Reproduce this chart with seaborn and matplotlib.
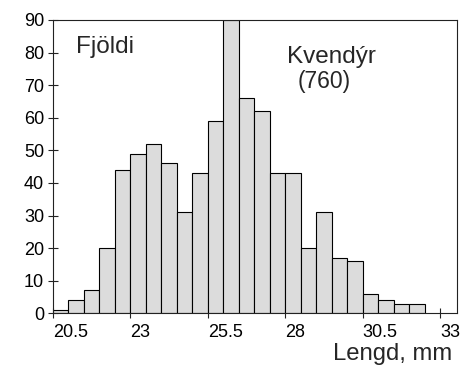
import numpy as np
import matplotlib
matplotlib.use("Agg")
import matplotlib.pyplot as plt
import seaborn as sns

# Data: length classes (0.5 mm bins starting at 20.5) and counts
bin_starts = [20.5, 21.0, 21.5, 22.0, 22.5, 23.0, 23.5, 24.0, 24.5, 25.0, 25.5, 26.0,
              26.5, 27.0, 27.5, 28.0, 28.5, 29.0, 29.5, 30.0, 30.5, 31.0, 31.5, 32.0]
counts = [1, 4, 7, 20, 44, 49, 52, 46, 31, 43, 59, 90,
          66, 62, 43, 43, 20, 31, 17, 16, 6, 4, 3, 3]
xtick_vals = [20.5, 23, 25.5, 28, 30.5, 33]
xtick_labels = ["20.5", "23", "25.5", "28", "30.5", "33"]
ytick_vals = [0, 10, 20, 30, 40, 50, 60, 70, 80, 90]

sns.set_style("ticks")
plt.rcParams['font.family'] = ['Liberation Sans', 'DejaVu Sans']

W, H = 469, 367
fig = plt.figure(figsize=(W / 100, H / 100), dpi=100)
ax = fig.add_axes([53 / W, 1 - 313.3 / H, (457 - 53) / W, (313.3 - 20) / H])

centers = [b + 0.25 for b in bin_starts]
edges = list(bin_starts) + [bin_starts[-1] + 0.5]
sns.histplot(x=centers, weights=counts, bins=edges, ax=ax,
             color="#dcdcdc", edgecolor="black", linewidth=0.8, alpha=1)

ax.set_xlim(20.5, 20.5 + (457 - 53) / 30.96)
ax.set_ylim(0, 90)
ax.set_xticks(xtick_vals)
ax.set_xticklabels(xtick_labels, ha="left")
ax.set_yticks(ytick_vals)
ax.set_xlabel("")
ax.set_ylabel("")
for s in ax.spines.values():
    s.set_visible(True)
    s.set_color("#222222")
    s.set_linewidth(0.8)
ax.tick_params(axis="both", direction="inout", length=7, width=0.8,
               color="#222222", labelsize=13, labelcolor="black")
ax.tick_params(axis="x", pad=4)
ax.tick_params(axis="y", pad=3)
for lbl in ax.get_xticklabels():
    lbl.set_x(lbl.get_position()[0])

def ftext(x, y, s, size):
    fig.text(x / W, 1 - y / H, s, fontsize=size, ha="left", va="baseline")

ftext(76, 53, "Fjöldi", 17.5)
ftext(287, 63, "Kvendýr", 17.5)
ftext(298, 88, "(760)", 16.5)
ftext(333, 360, "Lengd, mm", 17.2)

fig.savefig("out.png", dpi=100)
